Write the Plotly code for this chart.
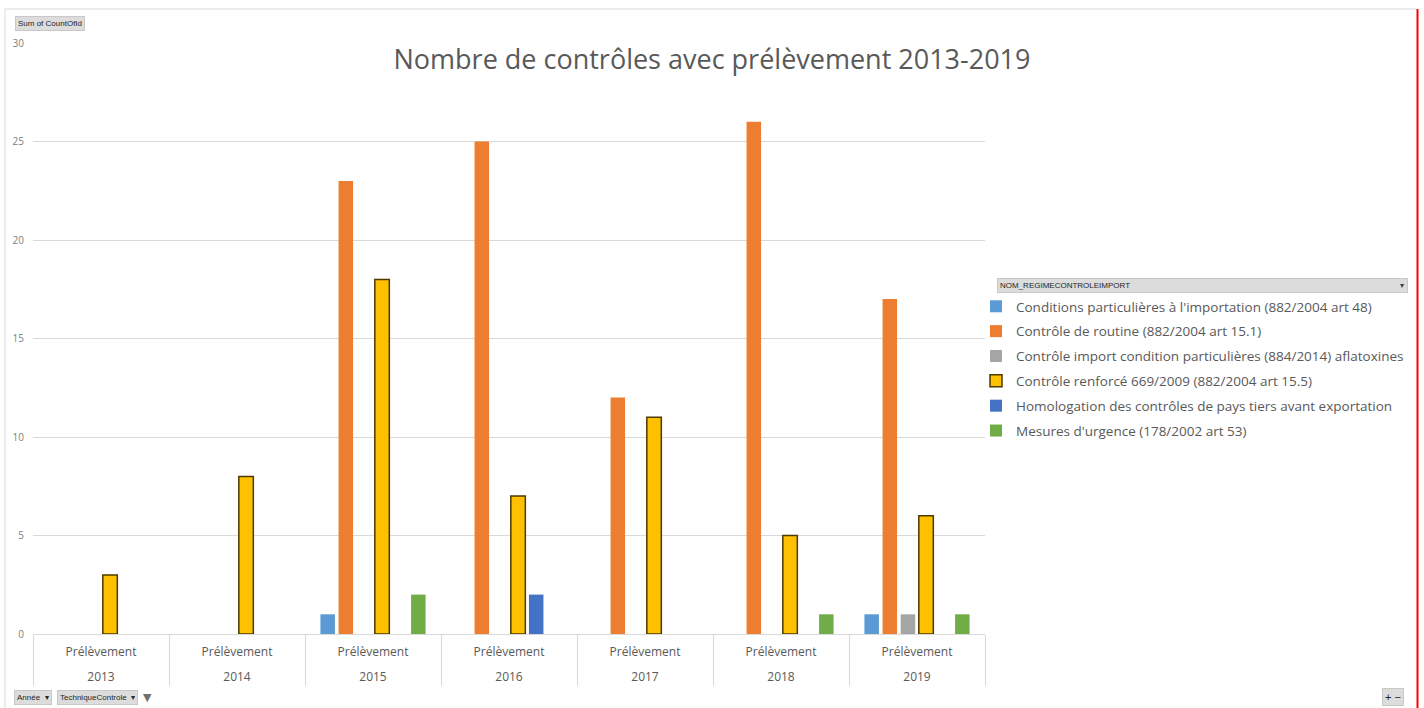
import plotly.graph_objects as go

years = ["2013", "2014", "2015", "2016", "2017", "2018", "2019"]
technique = ["Prélèvement"] * 7

series_names = [
    "Conditions particulières à l'importation (882/2004 art 48)",
    "Contrôle de routine (882/2004 art 15.1)",
    "Contrôle import condition particulières (884/2014) aflatoxines",
    "Contrôle renforcé 669/2009 (882/2004 art 15.5)",
    "Homologation des contrôles de pays tiers avant exportation",
    "Mesures d'urgence (178/2002 art 53)",
]
conditions_part = [None, None, 1, None, None, None, 1]
routine = [None, None, 23, 25, 12, 26, 17]
aflatoxines = [None, None, None, None, None, None, 1]
renforce = [3, 8, 18, 7, 11, 5, 6]
homologation = [None, None, None, 2, None, None, None]
urgence = [None, None, 2, None, None, 1, 1]

series_values = [conditions_part, routine, aflatoxines, renforce, homologation, urgence]
colors = ["#5B9BD5", "#ED7D31", "#A5A5A5", "#FFC000", "#4472C4", "#70AD47"]
line_colors = [None, None, None, "#4d3a00", None, None]

W, H = 1424, 708
L, R, T, B = 33, 985, 43, 634


def px(x):
    return (x - L) / (R - L)


def py(y):
    return (B - y) / (B - T)


FONT = "Open Sans"
fig = go.Figure()
for i, (name, vals) in enumerate(zip(series_names, series_values)):
    marker = dict(color=colors[i])
    if line_colors[i]:
        marker["line"] = dict(color=line_colors[i], width=1.5)
    else:
        marker["line"] = dict(width=0)
    fig.add_trace(go.Bar(
        x=years, y=vals, name=name, marker=marker,
        legendgroup=f"g{i}",
    ))

# carrier for the second (year) label row: no marks drawn
fig.add_trace(go.Scatter(
    x=years, y=[None] * len(years), xaxis="x2", yaxis="y",
    mode="markers", showlegend=False, hoverinfo="skip",
))

fig.update_layout(
    width=W, height=H,
    margin=dict(l=L, r=W - R, t=T, b=H - B, autoexpand=False),
    paper_bgcolor="white", plot_bgcolor="white",
    barmode="group", bargap=0.2, bargroupgap=0.2,
    font=dict(family=FONT, color="#595959"),
    title=dict(
        text="Nombre de contrôles avec prélèvement 2013-2019",
        x=0.5, xref="container", xanchor="center",
        y=1 - 60 / H, yref="container", yanchor="middle",
        font=dict(family=FONT, size=27, color="#595959"),
    ),
    showlegend=True,
    legend=dict(
        x=px(976), y=py(291), xanchor="left", yanchor="top",
        xref="paper", yref="paper",
        font=dict(family=FONT, size=13.5, color="#595959"),
        tracegroupgap=4.3, itemclick=False, itemdoubleclick=False,
        bgcolor="rgba(0,0,0,0)",
    ),
    xaxis=dict(
        type="category", showgrid=False, showline=True,
        linecolor="#D9D9D9", linewidth=1,
        tickmode="array", tickvals=years, ticktext=technique,
        tickson="boundaries", ticks="outside", ticklen=51,
        tickcolor="#D9D9D9", tickwidth=1,
        ticklabelstandoff=7,
        tickfont=dict(family=FONT, size=12, color="#595959"),
    ),
    xaxis2=dict(
        type="category", overlaying="x", anchor="y", side="bottom",
        range=[-0.5, len(years) - 0.5],
        showgrid=False, zeroline=False, showline=False, ticks="",
        ticklabelstandoff=34,
        tickfont=dict(family=FONT, size=12, color="#595959"),
    ),
    yaxis=dict(
        range=[0, 30], tickvals=[0, 5, 10, 15, 20, 25, 30],
        showgrid=True, gridcolor="#D9D9D9", gridwidth=1,
        zeroline=False, showline=False, ticks="",
        tickfont=dict(family=FONT, size=10, color="#808080"),
        ticklabelstandoff=8,
    ),
)

# Chart frame (top/left) and red right border
fig.add_shape(type="line", xref="paper", yref="paper",
              x0=px(5), x1=px(1416), y0=py(9), y1=py(9),
              line=dict(color="#D9D9D9", width=1))
fig.add_shape(type="line", xref="paper", yref="paper",
              x0=px(5), x1=px(5), y0=py(9), y1=py(708),
              line=dict(color="#D9D9D9", width=1))
fig.add_shape(type="line", xref="paper", yref="paper",
              x0=px(1417.5), x1=px(1417.5), y0=py(9), y1=py(708),
              line=dict(color="#FF0000", width=2))


def button(text, x, y, size=8, w=None):
    fig.add_annotation(
        text=text, xref="paper", yref="paper", x=px(x), y=py(y),
        xanchor="left", yanchor="middle", showarrow=False,
        font=dict(family="Liberation Sans", size=size, color="#262626"),
        bgcolor="#DCDCDC", bordercolor="#C8C8C8", borderwidth=1, borderpad=2,
        width=w, align="left",
    )


button("Sum of CountOfId", 15, 24)
button("NOM_REGIMECONTROLEIMPORT", 997, 285, w=405)
fig.add_annotation(text="▾", xref="paper", yref="paper", x=px(1402), y=py(285),
                   xanchor="center", yanchor="middle",
                   showarrow=False, font=dict(family="DejaVu Sans", size=8, color="#404040"))
button("Année  ▾", 14, 697)
button("TechniqueControle  ▾", 57, 697)
fig.add_annotation(text="▼", xref="paper", yref="paper", x=px(147), y=py(697),
                   xanchor="center", yanchor="middle",
                   showarrow=False, font=dict(family="DejaVu Sans", size=11, color="#707070"))
button("+ −", 1382, 697, size=11)

fig.write_html("out.html", config={"displayModeBar": False},
               post_script="document.body.style.margin='0';")
